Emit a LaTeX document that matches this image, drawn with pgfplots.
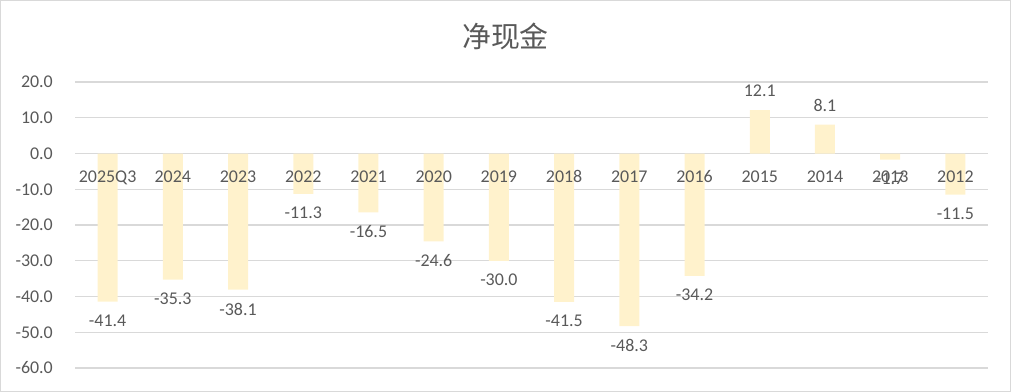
\documentclass[border=0pt]{standalone}
\usepackage{pgfplots}
\pgfplotsset{compat=1.18}
\usepackage{fontspec}
\setmainfont{Carlito}
\newfontfamily\cjk{Noto Sans CJK SC}
\definecolor{txt}{HTML}{595959}
\definecolor{gridc}{HTML}{D9D9D9}
\definecolor{barc}{HTML}{FFF2CC}
\begin{document}
\begin{tikzpicture}
\useasboundingbox (0,0) rectangle (1011bp,392bp);
\draw[gridc, line width=1bp] (0.5bp,0.5bp) rectangle (1010.5bp,391.5bp);
\node[font=\cjk\fontsize{29}{34}\selectfont, text=txt] at (505.5bp,356bp) {净现金};
\begin{axis}[
  at={(75bp,24bp)}, anchor=south west,
  scale only axis, width=913bp, height=286bp,
  xmin=-0.5, xmax=13.5, ymin=-60, ymax=20,
  ytick distance=10,
  xtick=\empty,
  axis x line*=middle,
  axis y line*=left,
  x axis line style={draw=none},
  y axis line style={draw=none},
  major tick length=0pt,
  ymajorgrids, grid style={gridc, line width=1.3bp},
  /pgf/number format/assume math mode=true,
  yticklabel={\pgfmathprintnumber[fixed,fixed zerofill,precision=1]{\tick}},
  yticklabel style={font=\fontsize{18}{21}\selectfont, text=txt, inner sep=0pt, anchor=east, xshift=-22bp},
  clip=false,
]
\addplot[ybar, bar width=20bp, fill=barc, draw=none,
  nodes near coords={\pgfmathprintnumber[fixed,fixed zerofill,precision=1]{\pgfplotspointmeta}},
  nodes near coords style={font=\fontsize{18}{21}\selectfont, text=txt, inner ysep=13bp, inner xsep=0pt},
] coordinates {
(0,-41.4) (1,-35.3) (2,-38.1) (3,-11.3) (4,-16.5) (5,-24.6) (6,-30.0)
(7,-41.5) (8,-48.3) (9,-34.2) (10,12.1) (11,8.1) (12,-1.7) (13,-11.5)
};
\addplot[draw=none, mark=none, point meta=explicit symbolic,
  nodes near coords, nodes near coords align={center},
  nodes near coords style={font=\fontsize{18}{21}\selectfont, text=txt, inner sep=0pt, anchor=north, yshift=-17bp},
] coordinates {
(0,0) [2025Q3] (1,0) [2024] (2,0) [2023] (3,0) [2022] (4,0) [2021] (5,0) [2020] (6,0) [2019]
(7,0) [2018] (8,0) [2017] (9,0) [2016] (10,0) [2015] (11,0) [2014] (12,0) [2013] (13,0) [2012]
};
\end{axis}
\end{tikzpicture}
\end{document}
